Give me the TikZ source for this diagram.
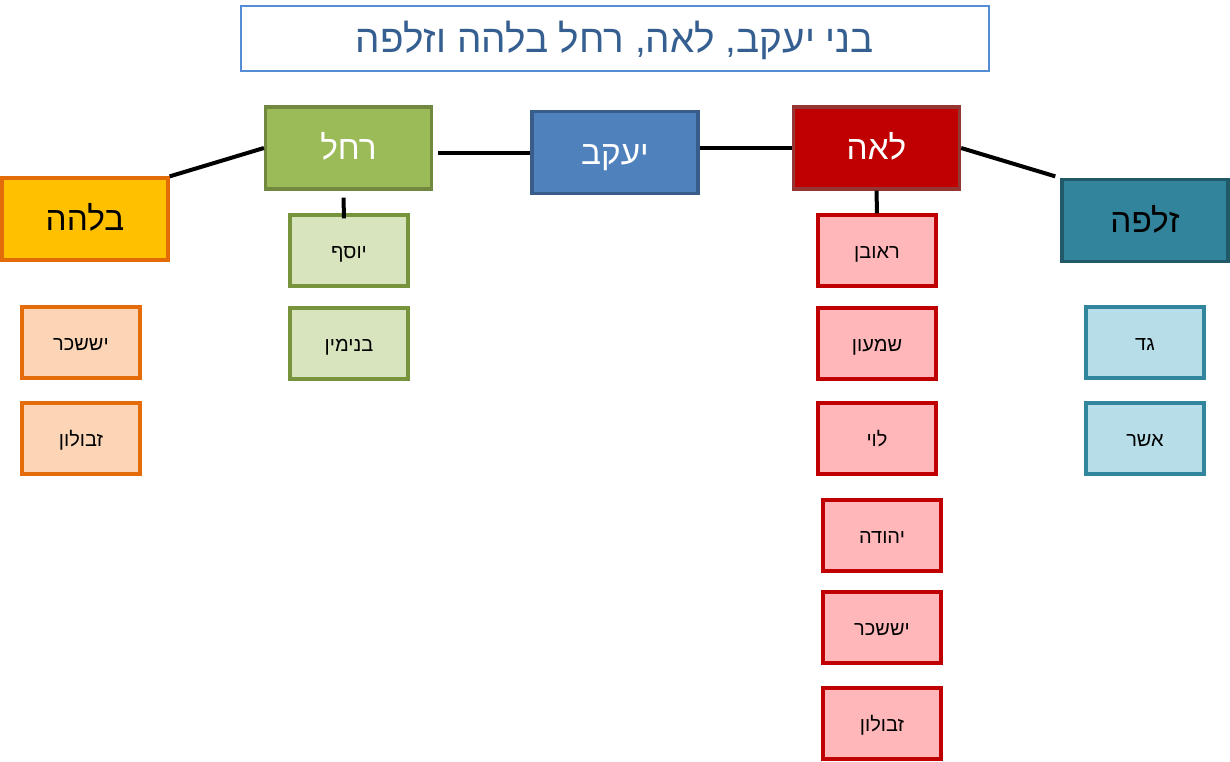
\documentclass[tikz,border=0pt]{standalone}
\usepackage{fontspec}
\setmainfont{Liberation Sans}
\newfontfamily\hebfont[Script=Hebrew]{Liberation Sans}
\TeXXeTstate=1
\usepackage{xcolor}
\definecolor{titleline}{RGB}{84,141,212}
\definecolor{titleink}{RGB}{54,95,145}
\definecolor{bilhahfill}{RGB}{255,192,0}
\definecolor{bilhahline}{RGB}{227,108,9}
\definecolor{rachelfill}{RGB}{155,187,89}
\definecolor{rachelline}{RGB}{113,137,63}
\definecolor{jacobfill}{RGB}{79,129,189}
\definecolor{jacobline}{RGB}{56,93,138}
\definecolor{leahfill}{RGB}{192,0,0}
\definecolor{leahline}{RGB}{148,54,52}
\definecolor{zilpahfill}{RGB}{49,132,155}
\definecolor{zilpahline}{RGB}{33,89,104}
\definecolor{greenkid}{RGB}{215,228,189}
\definecolor{greenkidline}{RGB}{119,147,60}
\definecolor{orangekid}{RGB}{251,213,181}
\definecolor{orangekidline}{RGB}{228,108,10}
\definecolor{redkid}{RGB}{255,183,186}
\definecolor{redkidline}{RGB}{192,0,0}
\definecolor{tealkid}{RGB}{183,222,232}
\definecolor{tealkidline}{RGB}{49,133,156}
\newcommand{\heb}[1]{{\hebfont\beginR #1\endR}}
\tikzset{
  parent/.style={draw=#1line,fill=#1fill,line width=2.4pt,inner sep=0pt,
    text height=17.5pt,text depth=0pt,
    minimum width=166*0.75pt,minimum height=82*0.75pt,font=\fontsize{25}{28}\selectfont},
  kid/.style={draw=#1line,fill=#1,line width=2.4pt,inner sep=0pt,
    text height=12.5pt,text depth=0pt,
    minimum width=118*0.75pt,minimum height=71*0.75pt,font=\fontsize{15}{18}\selectfont},
  tie/.style={line width=3pt,black}
}

\begin{document}
\begin{tikzpicture}[x=0.75pt,y=-0.75pt]
  \useasboundingbox (0,0) rectangle (1230,761);
  \node[draw=titleline,fill=white,line width=1pt,minimum width=748*0.75pt,minimum height=65*0.75pt,
    text height=21pt,text depth=0pt,inner sep=0pt,
    text=titleink,font=\fontsize{29}{32}\selectfont] (title) at (615,38.5)
    {\heb{בני יעקב, לאה, רחל בלהה וזלפה}};
  % parents
  \node[parent=bilhah] (bilhah) at (85,219) {\heb{בלהה}};
  \node[parent=rachel,text=white] (rachel) at (348.5,148) {\heb{רחל}};
  \node[parent=jacob,text=white] (jacob) at (615,152.5) {\heb{יעקב}};
  \node[parent=leah,text=white] (leah) at (876.5,148) {\heb{לאה}};
  \node[parent=zilpah] (zilpah) at (1145,220.5) {\heb{זלפה}};
  % sons
  \foreach \x/\y/\nm/\txt in {349/250.5/yosef/יוסף,349/343.5/binyamin/בנימין}
    \node[kid=greenkid] (\nm) at (\x,\y) {\heb{\txt}};
  \foreach \x/\y/\nm/\txt in {81/342.5/bissachar/יששכר,81/438.5/bzevulun/זבולון}
    \node[kid=orangekid] (\nm) at (\x,\y) {\heb{\txt}};
  \foreach \x/\y/\nm/\txt in {877/250.5/reuven/ראובן,877/343.5/shimon/שמעון,877/438.5/levi/לוי,
      882/535.5/yehuda/יהודה,882/627.5/lissachar/יששכר,882/723.5/lzevulun/זבולון}
    \node[kid=redkid] (\nm) at (\x,\y) {\heb{\txt}};
  \foreach \x/\y/\nm/\txt in {1145/342.5/gad/גד,1145/438.5/asher/אשר}
    \node[kid=tealkid] (\nm) at (\x,\y) {\heb{\txt}};
  % ties
  \draw[tie] (bilhah.north east) -- (rachel.west);
  \draw[tie] ([xshift=4]rachel.east |- jacob.west) -- (jacob.west);
  \draw[tie] (jacob.east |- leah.west) -- (leah.west);
  \draw[tie,shorten >=4pt] (leah.east) -- (zilpah.north west);
  \draw[tie] ([shift={(-5,7)}]rachel.south) -- ([shift={(-5,5)}]yosef.north);
  \draw[tie] (leah.south) -- (reuven.north);
\end{tikzpicture}
\end{document}
